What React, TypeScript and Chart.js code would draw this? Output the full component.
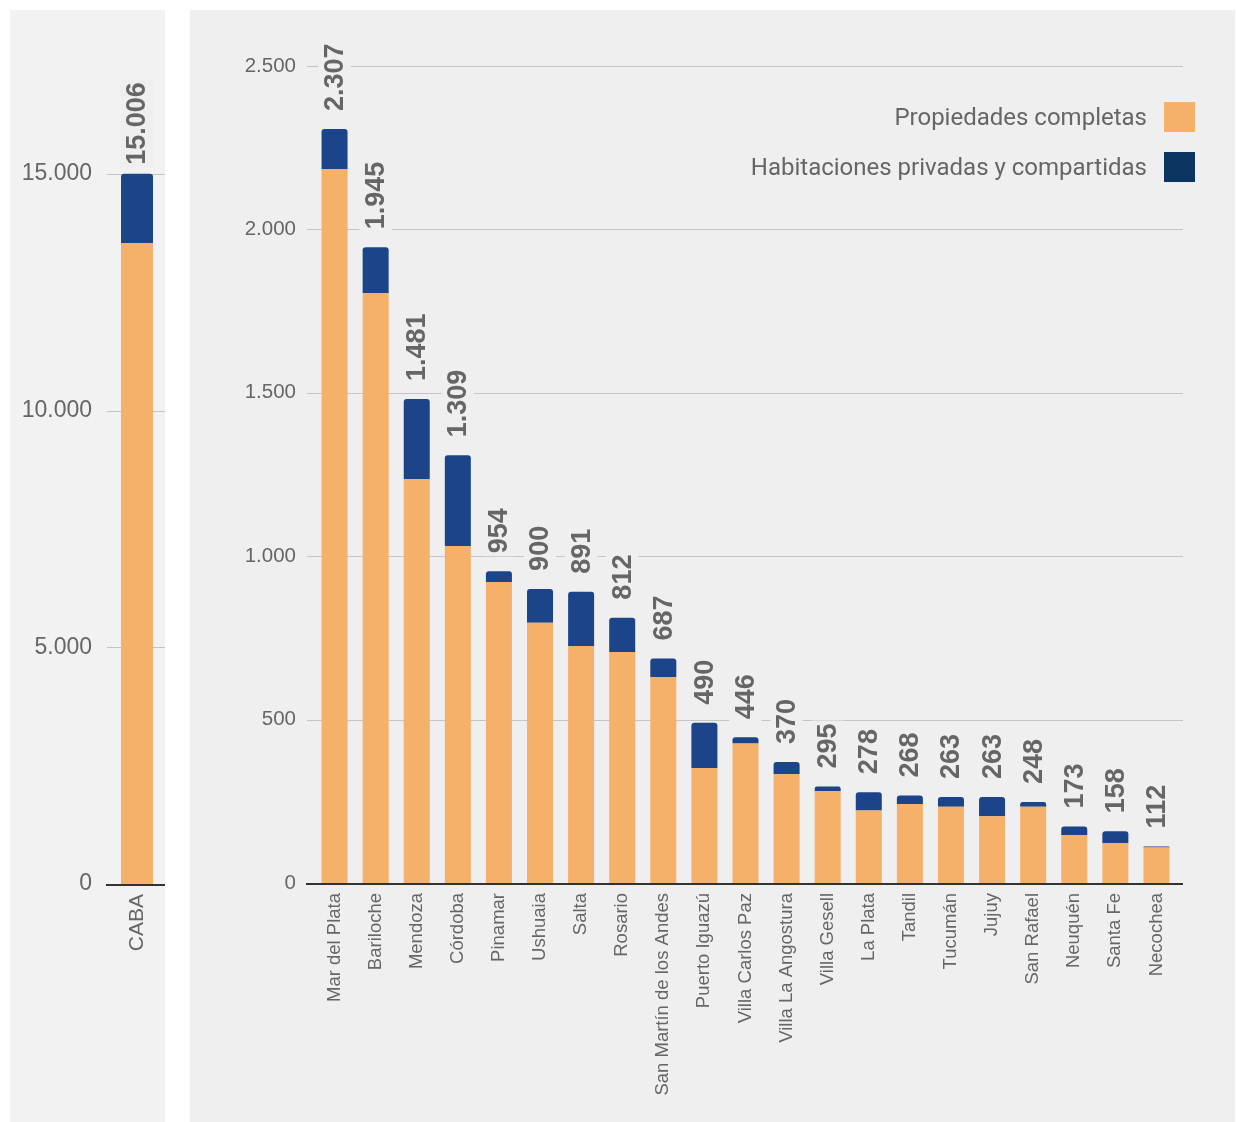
import React, { useEffect, useRef } from "react";
import { Chart, registerables } from "chart.js";

Chart.register(...registerables);

const cabaCategories = ["CABA"];
const cabaComplete = [13540];
const cabaRooms = [1466];
const cabaTicks = [0, 5000, 10000, 15000];

const mainCategories = [
  "Mar del Plata", "Bariloche", "Mendoza", "Córdoba", "Pinamar", "Ushuaia", "Salta",
  "Rosario", "San Martín de los Andes", "Puerto Iguazú", "Villa Carlos Paz",
  "Villa La Angostura", "Villa Gesell", "La Plata", "Tandil", "Tucumán", "Jujuy",
  "San Rafael", "Neuquén", "Santa Fe", "Necochea",
];
const mainComplete = [2185, 1805, 1236, 1031, 921, 796, 725, 707, 630, 352, 427, 333, 281, 222, 242, 233, 204, 233, 146, 122, 109];
const mainRooms = [122, 140, 245, 278, 33, 104, 166, 105, 57, 138, 19, 37, 14, 56, 26, 30, 59, 15, 27, 36, 3];
const mainTicks = [0, 500, 1000, 1500, 2000, 2500];

const legendLabels = ["Propiedades completas", "Habitaciones privadas y compartidas"];

const ORANGE = "#f5b06a";
const BLUE = "#1b4588";
const LEGEND_BLUE = "#0b3560";
const TEXT = "#666666";
const FONT = '"Liberation Sans", Arial, sans-serif';

const fmt = (v: number) => String(Math.round(v)).replace(/\B(?=(\d{3})+(?!\d))/g, ".");

const gridPlugin = {
  id: "customGrid",
  beforeDatasetsDraw(chart: any, _args: any, opts: any) {
    const { ctx, chartArea, scales } = chart;
    const y = scales.y;
    ctx.save();
    y.ticks.forEach((t: any) => {
      if (t.value === 0) return;
      const py = Math.round(y.getPixelForValue(t.value)) + 0.5;
      ctx.beginPath();
      ctx.strokeStyle = "#c4c4c4";
      ctx.lineWidth = 1;
      ctx.moveTo(chartArea.left - opts.extL, py);
      ctx.lineTo(chartArea.right + opts.extR, py);
      ctx.stroke();
    });
    ctx.restore();
  },
  afterDatasetsDraw(chart: any, _args: any, opts: any) {
    const { ctx, chartArea, scales } = chart;
    const y = scales.y;
    const py = Math.round(y.getPixelForValue(0)) + 1;
    ctx.save();
    ctx.beginPath();
    ctx.strokeStyle = "#333333";
    ctx.lineWidth = 2;
    ctx.moveTo(chartArea.left - opts.extL - 1, py);
    ctx.lineTo(chartArea.right + opts.extR, py);
    ctx.stroke();
    ctx.restore();
  },
};

const valueLabelPlugin = {
  id: "valueLabels",
  afterDatasetsDraw(chart: any, _args: any, opts: any) {
    const { ctx, scales } = chart;
    const x = scales.x;
    const y = scales.y;
    const ds = chart.data.datasets;
    ctx.save();
    ctx.font = `bold ${opts.size}px ${FONT}`;
    chart.data.labels.forEach((_l: any, i: number) => {
      const total = ds.reduce((s: number, d: any) => s + d.data[i], 0);
      const px = x.getPixelForValue(i);
      const py = y.getPixelForValue(total) - opts.gap;
      const text = fmt(total);
      const w = ctx.measureText(text).width;
      ctx.save();
      ctx.translate(px, py);
      ctx.rotate(-Math.PI / 2);
      ctx.fillStyle = opts.bg;
      ctx.fillRect(-3, -opts.size * 0.6, w + 6, opts.size * 1.2);
      ctx.fillStyle = TEXT;
      ctx.textAlign = "left";
      ctx.textBaseline = "middle";
      ctx.fillText(text, 0, 1);
      ctx.restore();
    });
    ctx.restore();
  },
};

function makeConfig(
  labels: string[],
  complete: number[],
  rooms: number[],
  tickValues: number[],
  p: {
    max: number; barPct: number; yWidth: number; xHeight: number;
    padTop: number; padRight: number; tickPad: number; tickSize: number; xSize: number;
    labelGap: number; labelSize: number; labelBg: string; extL: number; extR: number;
  }
): any {
  return {
    type: "bar",
    data: {
      labels,
      datasets: [
        {
          label: legendLabels[0],
          data: complete,
          backgroundColor: ORANGE,
          barPercentage: p.barPct,
          categoryPercentage: 1,
          borderSkipped: false,
          borderRadius: 0,
        },
        {
          label: legendLabels[1],
          data: rooms,
          backgroundColor: BLUE,
          barPercentage: p.barPct,
          categoryPercentage: 1,
          borderSkipped: "bottom",
          borderRadius: { topLeft: 3, topRight: 3, bottomLeft: 0, bottomRight: 0 },
        },
      ],
    },
    options: {
      responsive: false,
      animation: false,
      devicePixelRatio: 1,
      layout: { padding: { top: p.padTop, right: p.padRight, left: 0, bottom: 0 } },
      plugins: {
        legend: { display: false },
        tooltip: { enabled: false },
        customGrid: { extL: p.extL, extR: p.extR },
        valueLabels: { gap: p.labelGap, bg: p.labelBg, size: p.labelSize },
      },
      scales: {
        x: {
          stacked: true,
          grid: { display: false, drawTicks: false },
          border: { display: false },
          ticks: {
            autoSkip: false,
            maxRotation: 90,
            minRotation: 90,
            padding: 10,
            color: TEXT,
            font: { family: FONT, size: p.xSize },
          },
          afterFit: (s: any) => {
            s.height = p.xHeight;
            s.paddingLeft = 0;
            s.paddingRight = 0;
          },
        },
        y: {
          stacked: true,
          min: 0,
          max: p.max,
          grid: { display: false, drawTicks: false },
          border: { display: false },
          ticks: {
            padding: p.tickPad,
            color: TEXT,
            font: { family: FONT, size: p.tickSize },
            callback: (v: any) => fmt(Number(v)),
          },
          afterBuildTicks: (s: any) => {
            s.ticks = tickValues.map((v) => ({ value: v }));
          },
          afterFit: (s: any) => {
            s.width = p.yWidth;
            s.paddingTop = 0;
            s.paddingBottom = 0;
          },
        },
      },
    },
    plugins: [gridPlugin, valueLabelPlugin],
  };
}

function BarCanvas({ width, height, config }: { width: number; height: number; config: () => any }) {
  const ref = useRef<HTMLCanvasElement | null>(null);
  useEffect(() => {
    if (!ref.current) return;
    const chart = new Chart(ref.current, config());
    return () => chart.destroy();
  }, []);
  return <canvas ref={ref} width={width} height={height} style={{ display: "block", width, height }} />;
}

export default function App() {
  return (
    <div style={{ position: "absolute", left: 0, top: 0, width: 1236, height: 1122, background: "#ffffff", overflow: "hidden" }}>
      <div style={{ position: "absolute", left: 10, top: 10, width: 155, height: 1112, background: "#f2f2f2" }}>
        <BarCanvas
          width={155}
          height={1112}
          config={() =>
            makeConfig(cabaCategories, cabaComplete, cabaRooms, cabaTicks, {
              max: 18000, barPct: 0.571, yWidth: 99, xHeight: 238,
              padTop: 22, padRight: 0, tickPad: 17, tickSize: 23, xSize: 21,
              labelGap: 9, labelSize: 27, labelBg: "#efefef", extL: 2, extR: 0,
            })
          }
        />
      </div>
      <div style={{ position: "absolute", left: 190, top: 10, width: 1045, height: 1112, background: "#efefef" }}>
        <BarCanvas
          width={1045}
          height={1112}
          config={() =>
            makeConfig(mainCategories, mainComplete, mainRooms, mainTicks, {
              max: 2600, barPct: 0.633, yWidth: 124, xHeight: 239,
              padTop: 23.32, padRight: 58, tickPad: 18, tickSize: 20.5, xSize: 18.5,
              labelGap: 18, labelSize: 27, labelBg: "#efefef", extL: 7, extR: 6,
            })
          }
        />
        <div style={{ position: "absolute", right: 40, top: 92, fontFamily: "Roboto, sans-serif", fontSize: 24, color: TEXT }}>
          {legendLabels.map((l, i) => (
            <div key={l} style={{ display: "flex", alignItems: "center", justifyContent: "flex-end", height: 30, marginBottom: 20 }}>
              <span style={{ marginRight: 17, whiteSpace: "nowrap" }}>{l}</span>
              <span style={{ display: "inline-block", width: 31, height: 30, background: i === 0 ? ORANGE : LEGEND_BLUE }} />
            </div>
          ))}
        </div>
      </div>
    </div>
  );
}
